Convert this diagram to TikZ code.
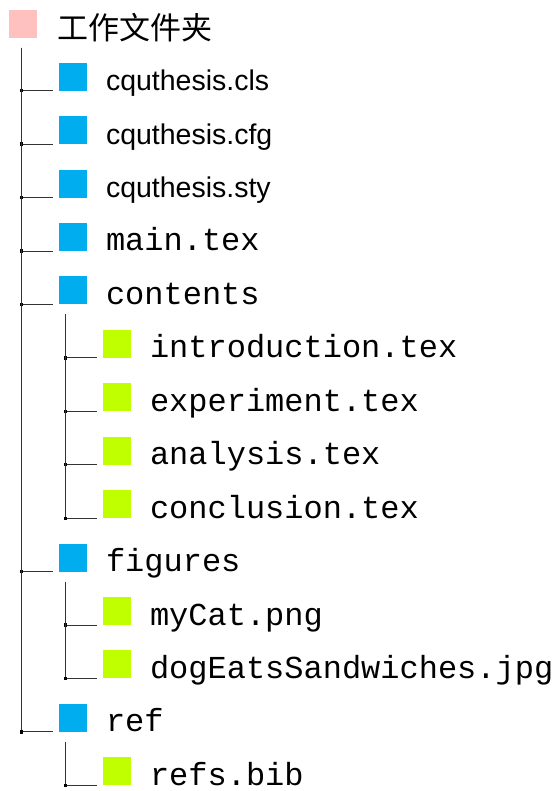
\documentclass[tikz,border=0pt]{standalone}
\usepackage{fontspec}
\setsansfont{Liberation Sans}
\setmonofont{Liberation Mono}
\newfontfamily\cjkfont{Noto Sans CJK SC}
\definecolor{rootpink}{RGB}{255,192,192}
\definecolor{dirblue}{RGB}{0,174,239}
\definecolor{filegreen}{RGB}{192,255,0}
\begin{document}
\begin{tikzpicture}[x=1pt,y=-1pt,
  sq/.style={minimum size=28pt,inner sep=0pt,outer sep=0pt,anchor=south west},
  rootsq/.style={sq,fill=rootpink},
  dirsq/.style={sq,fill=dirblue},
  filesq/.style={sq,fill=filegreen},
  lbl/.style={anchor=base west,inner sep=0pt,outer sep=0pt},
  sanslbl/.style={lbl,font=\sffamily\fontsize{28.5}{30}\selectfont},
  monolbl/.style={lbl,font=\ttfamily\fontsize{32}{34}\selectfont},
  edge/.style={draw=black!80,line width=0.9pt},
  jdot/.style={fill=black,minimum size=3.2pt,inner sep=0pt,outer sep=0pt}
]
\useasboundingbox (0,0) rectangle (556,791);
% root
\node[rootsq] (root) at (9,38) {};
\node[lbl,font=\cjkfont\fontsize{31}{34}\selectfont] (rootl) at (57,40) {工作文件夹};
% level 1
\node[dirsq] (cls) at (59,90.7) {};
\node[sanslbl] at ([xshift=19pt]cls.south east) {cquthesis.cls};
\node[dirsq] (cfg) at (59,144.1) {};
\node[sanslbl] at ([xshift=19pt]cfg.south east) {cquthesis.cfg};
\node[dirsq] (sty) at (59,197.6) {};
\node[sanslbl] at ([xshift=19pt]sty.south east) {cquthesis.sty};
\node[dirsq] (main) at (59,251.0) {};
\node[monolbl] at ([xshift=19pt]main.south east) {main.tex};
\node[dirsq] (contents) at (59,304.4) {};
\node[monolbl] at ([xshift=19pt]contents.south east) {contents};
\node[filesq] (intro) at (103,357.9) {};
\node[monolbl] at ([xshift=19pt]intro.south east) {introduction.tex};
\node[filesq] (exper) at (103,411.3) {};
\node[monolbl] at ([xshift=19pt]exper.south east) {experiment.tex};
\node[filesq] (anal) at (103,464.7) {};
\node[monolbl] at ([xshift=19pt]anal.south east) {analysis.tex};
\node[filesq] (concl) at (103,518.1) {};
\node[monolbl] at ([xshift=19pt]concl.south east) {conclusion.tex};
\node[dirsq] (figs) at (59,571.6) {};
\node[monolbl] at ([xshift=19pt]figs.south east) {figures};
\node[filesq] (cat) at (103,625.0) {};
\node[monolbl] at ([xshift=19pt]cat.south east) {myCat.png};
\node[filesq] (dog) at (103,678.4) {};
\node[monolbl] at ([xshift=19pt]dog.south east) {dogEatsSandwiches.jpg};
\node[dirsq] (ref) at (59,731.9) {};
\node[monolbl] at ([xshift=19pt]ref.south east) {ref};
\node[filesq] (bib) at (103,785.3) {};
\node[monolbl] at ([xshift=19pt]bib.south east) {refs.bib};
% connectors
\foreach \c in {cls,cfg,sty,main,contents,figs,ref}
  \draw[edge] ([shift={(12.5pt,-10pt)}]root.south west) |- node[jdot]{} ([xshift=-6pt]\c.south west);
\foreach \c in {intro,exper,anal,concl}
  \draw[edge] ([shift={(6.5pt,-10pt)}]contents.south west) |- node[jdot]{} ([xshift=-6pt]\c.south west);
\foreach \c in {cat,dog}
  \draw[edge] ([shift={(6.5pt,-10pt)}]figs.south west) |- node[jdot]{} ([xshift=-6pt]\c.south west);
\draw[edge] ([shift={(6.5pt,-10pt)}]ref.south west) |- node[jdot]{} ([xshift=-6pt]bib.south west);
\end{tikzpicture}
\end{document}
